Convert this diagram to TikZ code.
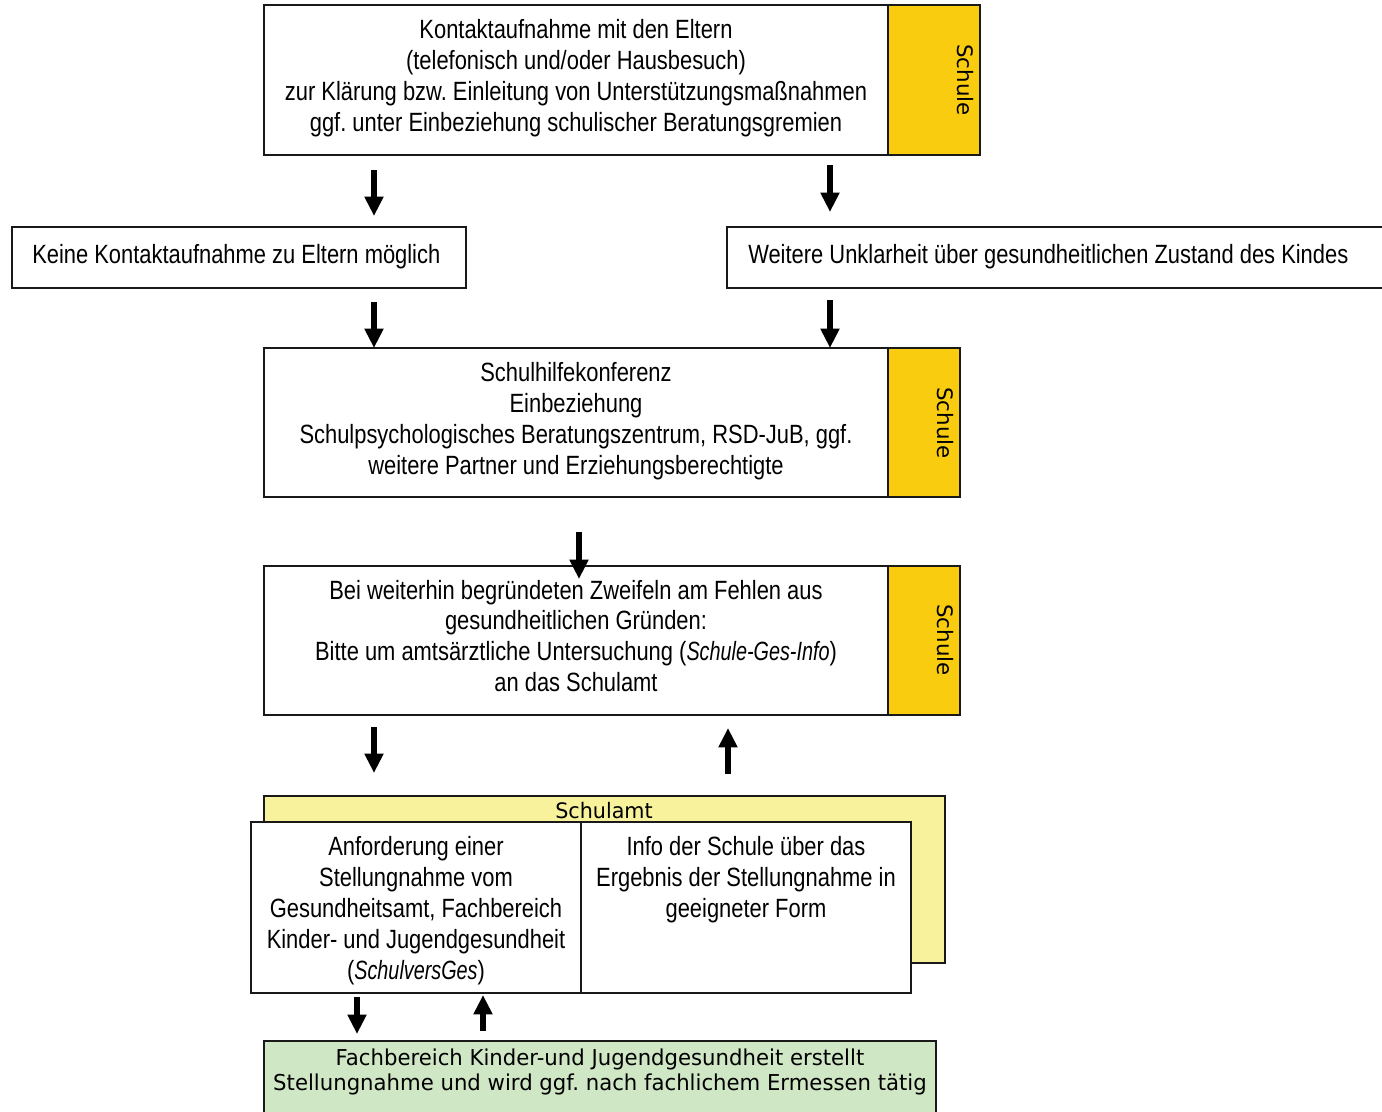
\documentclass[tikz,border=0pt]{standalone}
\usepackage{fontspec}
\setmainfont{Liberation Sans}[FakeStretch=0.83]
\newfontfamily\itnarrow{Liberation Sans}[FakeStretch=0.75]
\newfontfamily\verd{DejaVu Sans}[FakeStretch=0.97]
\newfontfamily\dejav{DejaVu Sans}
\newcommand\narrowit[1]{{\itnarrow\itshape #1}}
\usetikzlibrary{arrows.meta,fit}
\definecolor{schulgelb}{HTML}{FACC0F}
\definecolor{amtgelb}{HTML}{F7F29B}
\definecolor{gruen}{HTML}{D0E7C5}
\tikzset{
  box/.style={draw=black!90, line width=1.3pt, inner sep=0pt, fill=white},
  ybox/.style={box, fill=schulgelb},
  txt/.style={align=center, inner sep=0pt, font=\fontsize{19.8}{23.2}\selectfont},
  ltxt/.style={align=left, inner sep=0pt, anchor=west, font=\fontsize{19.8}{23.2}\selectfont},
  vtxt/.style={rotate=-90, inner sep=0pt, font=\dejav\fontsize{16}{18}\selectfont},
  bigarr/.style={line width=4.5pt, -{Triangle[width=13.5pt,length=14.5pt]}},
}
\frenchspacing
\begin{document}
\begin{tikzpicture}[x=0.75pt,y=-0.75pt]
\useasboundingbox (0,0) rectangle (1382,1111);

% --- top box
\node[box, fit={(264,5) (888,155)}] (kontakt) {};
\node[ybox, fit={(888,5) (980,155)}] (s1) {};
\node[txt] (t1) at (576,78) {Kontaktaufnahme mit den Eltern\\(telefonisch und/oder Hausbesuch)\\zur Klärung bzw. Einleitung von Unterstützungsmaßnahmen\\ggf. unter Einbeziehung schulischer Beratungsgremien};
\node[vtxt] (v1) at (965,80) {Schule};

% --- second row
\node[box, fit={(12,227) (466,288)}] (keine) {};
\node[ltxt] (t2) at (32,257) {Keine Kontaktaufnahme zu Eltern möglich};
\node[box, fit={(727,227) (1392,288)}] (weitere) {};
\node[ltxt] (t3) at (748,257) {Weitere Unklarheit über gesundheitlichen Zustand des Kindes};

% --- Schulhilfekonferenz
\node[box, fit={(264,348) (888,497)}] (shk) {};
\node[ybox, fit={(888,348) (960,497)}] (s2) {};
\node[txt] (t4) at (576,421.5) {Schulhilfekonferenz\\Einbeziehung\\Schulpsychologisches Beratungszentrum, RSD-JuB, ggf.\\weitere Partner und Erziehungsberechtigte};
\node[vtxt] (v2) at (945,423) {Schule};

% --- Bei weiterhin
\node[box, fit={(264,566) (888,715)}] (bei) {};
\node[ybox, fit={(888,566) (960,715)}] (s3) {};
\node[txt] (t5) at (576,636) {Bei weiterhin begründeten Zweifeln am Fehlen aus\\gesundheitlichen Gründen:\\Bitte um amtsärztliche Untersuchung (\narrowit{Schule-Ges-Info})\\an das Schulamt};
\node[vtxt] (v3) at (945,640) {Schule};

% --- Schulamt
\node[box, fill=amtgelb, fit={(264,796) (945,963)}] (amt) {};
\node[inner sep=0pt, font=\verd\fontsize{16}{18}\selectfont] (t6) at (604,811) {Schulamt};
\node[box, fit={(251,822) (581,993)}] (anf) {};
\node[box, fit={(581,822) (911,993)}] (info) {};
\node[txt] (t7) at (416,910.5) {Anforderung einer\\Stellungnahme vom\\Gesundheitsamt, Fachbereich\\Kinder- und Jugendgesundheit\\(\narrowit{SchulversGes})};
\node[txt] (t8) at (746,880) {Info der Schule über das\\Ergebnis der Stellungnahme in\\geeigneter Form};

% --- Fachbereich
\node[box, fill=gruen, fit={(264,1041) (936,1120)}] (fach) {};
\node[align=center, inner sep=0pt, font=\verd\fontsize{16.4}{18.75}\selectfont] (t9) at (600,1072) {Fachbereich Kinder-und Jugendgesundheit erstellt\\Stellungnahme und wird ggf. nach fachlichem Ermessen tätig};

% --- arrows
\coordinate (a1s) at (374,170); \coordinate (a1e) at (374,216);
\coordinate (a2s) at (830,165); \coordinate (a2e) at (830,212);
\coordinate (a3s) at (374,302); \coordinate (a3e) at (374,348);
\coordinate (a4s) at (830,300); \coordinate (a4e) at (830,348);
\coordinate (a5s) at (579,532); \coordinate (a5e) at (579,579);
\coordinate (a6s) at (374,727); \coordinate (a6e) at (374,773);
\coordinate (a7s) at (728,774); \coordinate (a7e) at (728,728);
\coordinate (a8s) at (357,997); \coordinate (a8e) at (357,1034);
\coordinate (a9s) at (483,1031); \coordinate (a9e) at (483,995);
\foreach \i in {1,...,9} \draw[bigarr] (a\i s) -- (a\i e);
\end{tikzpicture}
\end{document}
